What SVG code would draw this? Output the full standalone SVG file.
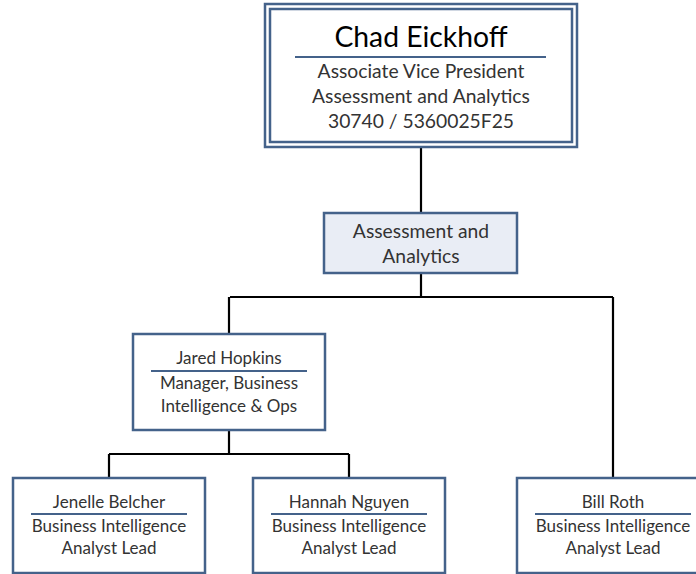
<svg xmlns="http://www.w3.org/2000/svg" width="696" height="574" viewBox="0 0 696 574">
<style>
.box{fill:#ffffff;stroke:#44628a;stroke-width:2.5}
.dept{fill:#e9edf5;stroke:#44628a;stroke-width:2.5}
.rule{stroke:#44628a;stroke-width:2}
.conn{fill:none;stroke:#000000;stroke-width:2.2}
text{font-family:Lato,"Open Sans","Liberation Sans",sans-serif;fill:#333333;text-anchor:middle}
.big{font-size:28.3px;fill:#000}
.t19{font-size:19.3px}
.t17{font-size:17px}
</style>
<rect width="696" height="574" fill="#ffffff"/>
<g id="connectors">
<path class="conn" d="M421 147 V213"/>
<path class="conn" d="M421 273 V297 M230 297 H613 M229 297 V334 M613 297 V478"/>
<path class="conn" d="M229 430 V454 M109 454 H349 M109 454 V478 M349 454 V478"/>
</g>
<g id="chad">
<rect class="box" x="265" y="4" width="312" height="143"/>
<rect class="box" x="270" y="9" width="302" height="133" stroke-width="2"/>
<text class="big" x="421" y="47">Chad Eickhoff</text>
<line class="rule" x1="295" y1="57" x2="546" y2="57"/>
<text class="t19" x="421" y="78">Associate Vice President</text>
<text class="t19" x="421" y="103">Assessment and Analytics</text>
<text class="t19" x="421" y="128">30740 / 5360025F25</text>
</g>
<g id="dept">
<rect class="dept" x="324" y="213" width="193" height="60"/>
<text class="t19" x="421" y="238">Assessment and</text>
<text class="t19" x="421" y="263">Analytics</text>
</g>
<g id="jared">
<rect class="box" x="133" y="334" width="192" height="96"/>
<text class="t17" x="229" y="364">Jared Hopkins</text>
<line class="rule" x1="151" y1="371" x2="307" y2="371"/>
<text class="t17" x="229" y="389">Manager, Business</text>
<text class="t17" x="229" y="412">Intelligence &amp; Ops</text>
</g>
<g id="jenelle">
<rect class="box" x="13" y="478" width="192" height="95"/>
<text class="t17" x="109" y="508">Jenelle Belcher</text>
<line class="rule" x1="31" y1="514" x2="187" y2="514"/>
<text class="t17" x="109" y="532">Business Intelligence</text>
<text class="t17" x="109" y="554">Analyst Lead</text>
</g>
<g id="hannah">
<rect class="box" x="253" y="478" width="192" height="95"/>
<text class="t17" x="349" y="508">Hannah Nguyen</text>
<line class="rule" x1="271" y1="514" x2="427" y2="514"/>
<text class="t17" x="349" y="532">Business Intelligence</text>
<text class="t17" x="349" y="554">Analyst Lead</text>
</g>
<g id="bill">
<rect class="box" x="517" y="478" width="192" height="95"/>
<text class="t17" x="613" y="508">Bill Roth</text>
<line class="rule" x1="535" y1="514" x2="691" y2="514"/>
<text class="t17" x="613" y="532">Business Intelligence</text>
<text class="t17" x="613" y="554">Analyst Lead</text>
</g>
</svg>
